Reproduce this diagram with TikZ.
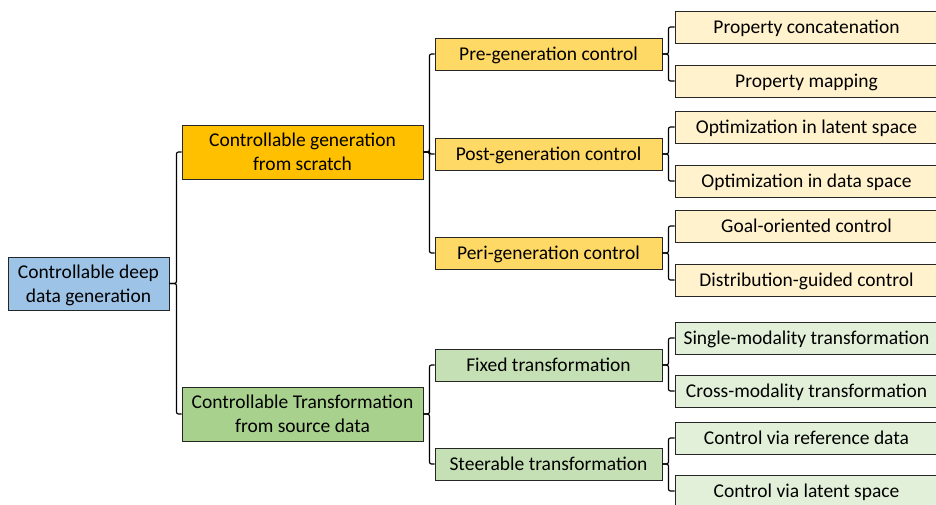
\documentclass[tikz,border=0pt]{standalone}
\usepackage{fontspec}
\setmainfont{Carlito}
\definecolor{rootblue}{HTML}{9DC3E6}
\definecolor{genorange}{HTML}{FFC000}
\definecolor{genyellow}{HTML}{FFD966}
\definecolor{genleaf}{HTML}{FFF2CC}
\definecolor{trgreen}{HTML}{A9D18E}
\definecolor{trmid}{HTML}{C5E0B4}
\definecolor{trleaf}{HTML}{E2F0D9}
\begin{document}
\begin{tikzpicture}[x=1pt,y=-1pt,
    box/.style={draw=black!85, line width=0.9pt, align=center, inner sep=0pt,
        text depth=0pt, font=\fontsize{19.5}{24}\selectfont},
    rootbox/.style={box, fill=rootblue, minimum width=161pt, minimum height=53pt},
    topbox/.style={box, minimum width=241pt, minimum height=54pt},
    midbox/.style={box, minimum width=227pt, minimum height=32pt},
    leafbox/.style={box, minimum width=263pt, minimum height=32pt},
    link/.style={line width=1.2pt, rounded corners=2pt}]
\useasboundingbox (0,0) rectangle (936,504);
% корень
                \node [rootbox] (root) at (88.5,283.5) {Controllable deep\\data generation};
% первый уровень
                \node [topbox, fill=genorange] (gen) at (302.5,152) {Controllable generation\\from scratch};
                \node [topbox, fill=trgreen] (trans) at (302.5,414) {Controllable Transformation\\from source data};
% второй уровень
                \node [midbox, fill=genyellow] (pre) at (548.5,54) {Pre-generation control};
                \node [midbox, fill=genyellow] (post) at (548.5,154) {Post-generation control};
                \node [midbox, fill=genyellow] (peri) at (548.5,253) {Peri-generation control};
                \node [midbox, fill=trmid] (fixed) at (548.5,365) {Fixed transformation};
                \node [midbox, fill=trmid] (steer) at (548.5,464) {Steerable transformation};
% листья
                \node [leafbox, fill=genleaf] (concat) at (806.5,27) {Property concatenation};
                \node [leafbox, fill=genleaf] (mapping) at (806.5,81) {Property mapping};
                \node [leafbox, fill=genleaf] (latopt) at (806.5,127) {Optimization in latent space};
                \node [leafbox, fill=genleaf] (dataopt) at (806.5,181) {Optimization in data space};
                \node [leafbox, fill=genleaf] (goal) at (806.5,226) {Goal-oriented control};
                \node [leafbox, fill=genleaf] (distr) at (806.5,280) {Distribution-guided control};
                \node [leafbox, fill=trleaf] (single) at (806.5,338) {Single-modality transformation};
                \node [leafbox, fill=trleaf] (cross) at (806.5,391) {Cross-modality transformation};
                \node [leafbox, fill=trleaf] (refdata) at (806.5,438) {Control via reference data};
                \node [leafbox, fill=trleaf] (latctl) at (806.5,491) {Control via latent space};
% связи
                \foreach \c in {gen, trans}
                    \draw [link] (root.east) -- ++(7,0) |- (\c.west);
                \foreach \c in {pre, post, peri}
                    \draw [link] (gen.east) -- ++(6,0) |- (\c.west);
                \foreach \c in {fixed, steer}
                    \draw [link] (trans.east) -- ++(6,0) |- (\c.west);
                \foreach \p/\a/\b in {pre/concat/mapping, post/latopt/dataopt, peri/goal/distr,
                                      fixed/single/cross, steer/refdata/latctl} {
                    \draw [link] (\p.east) -- ++(6,0) |- (\a.west);
                    \draw [link] (\p.east) -- ++(6,0) |- (\b.west);
                }
\end{tikzpicture}
\end{document}
